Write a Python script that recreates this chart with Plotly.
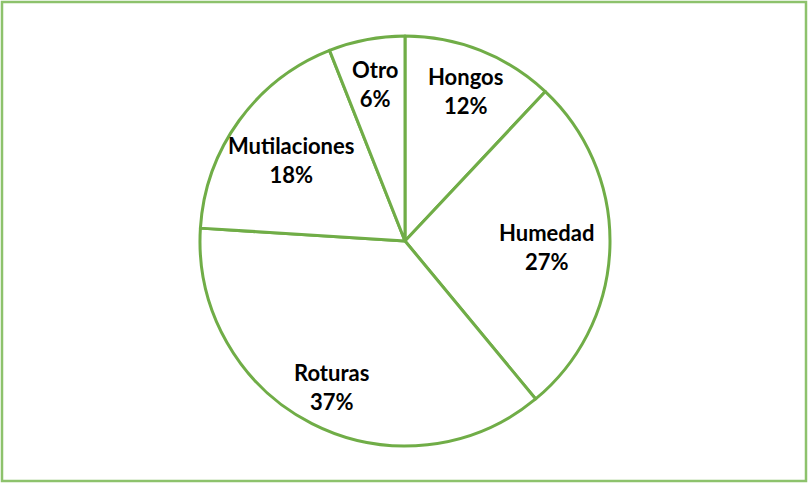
import math
import plotly.graph_objects as go

labels = ["Hongos", "Humedad", "Roturas", "Mutilaciones", "Otro"]
values = [12, 27, 37, 18, 6]

W, H = 808, 483
CX, CY, R = 405, 241, 205  # pie centre / radius in px
label_radius = [0.80, 0.69, 0.79, 0.69, 0.79]

green = "#70AD47"

fig = go.Figure(go.Pie(
    labels=labels,
    values=values,
    sort=False,
    direction="clockwise",
    rotation=0,
    textinfo="none",
    hoverinfo="label+percent",
    marker=dict(colors=["#FFFFFF"] * len(values), line=dict(color=green, width=3)),
    domain=dict(x=[(CX - R) / W, (CX + R) / W], y=[1 - (CY + R) / H, 1 - (CY - R) / H]),
    showlegend=False,
))

total = sum(values)
cum = 0
annotations = []
for lab, v, f in zip(labels, values, label_radius):
    mid = (cum + v / 2) / total * 2 * math.pi
    cum += v
    px = CX + f * R * math.sin(mid)
    py = CY - f * R * math.cos(mid) + 2
    pct = round(v / total * 100)
    annotations.append(dict(
        x=px / W, y=1 - py / H, xref="paper", yref="paper",
        text=f"<b>{lab}<br>{pct}%</b>", showarrow=False,
        font=dict(family="Lato, Open Sans, sans-serif", size=22, color="#000000"),
        xanchor="center", yanchor="middle", align="center",
    ))

fig.update_layout(
    width=W, height=H,
    margin=dict(l=0, r=0, t=0, b=0),
    paper_bgcolor="#FFFFFF",
    annotations=annotations,
    shapes=[dict(type="rect", xref="paper", yref="paper",
                 x0=2 / W, x1=1 - 2 / W, y0=2 / H, y1=1 - 2 / H,
                 line=dict(color="#8DC26C", width=2.5))],
)

fig.write_html("out.html", config={"displayModeBar": False},
               post_script="document.body.style.margin='0';document.body.style.overflow='hidden';")
